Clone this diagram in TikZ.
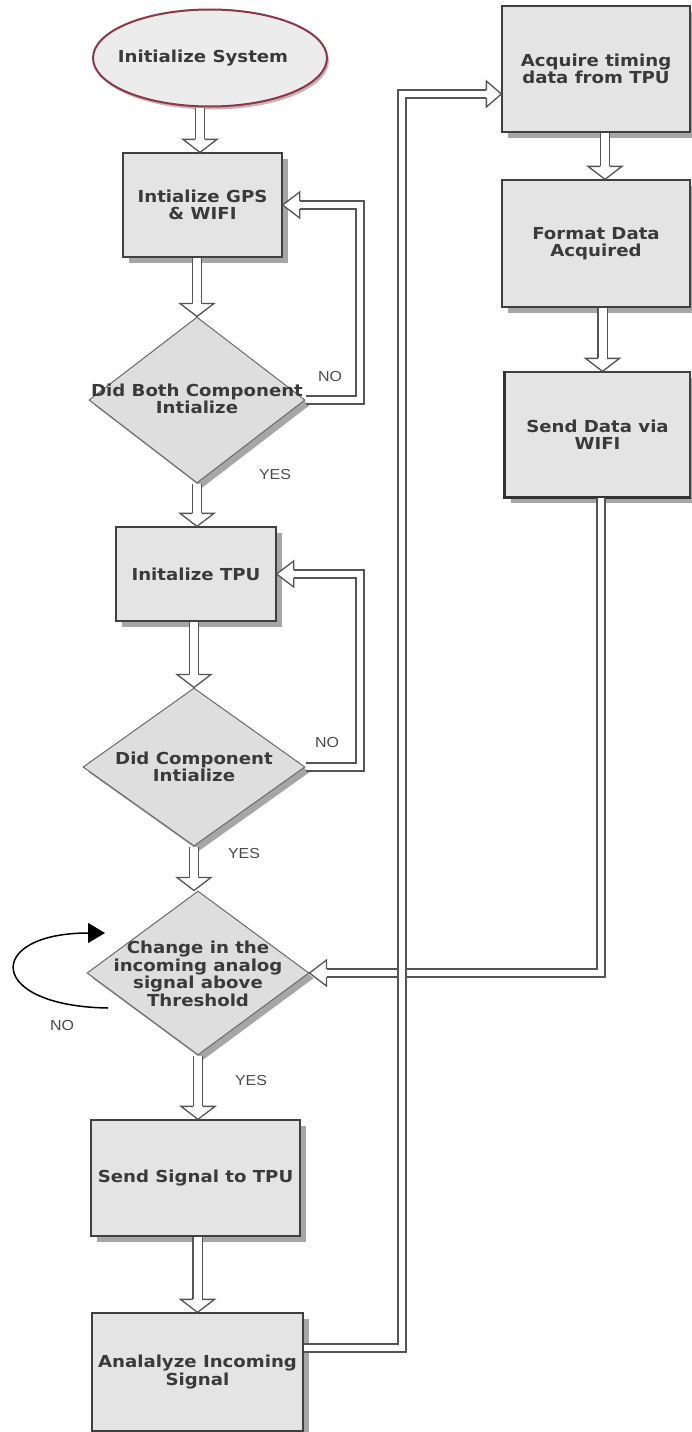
\documentclass[tikz,border=0pt]{standalone}
\usepackage{fontspec}
\usetikzlibrary{shapes.geometric,shadows,calc,arrows.meta}
\newfontfamily\boxfont[FakeStretch=1.1]{DejaVu Sans}
\newfontfamily\lblfont[FakeStretch=1.1]{Liberation Sans}
\definecolor{boxfill}{HTML}{E4E4E4}
\definecolor{decfill}{HTML}{DEDEDE}
\definecolor{boxline}{HTML}{404040}
\definecolor{decline}{HTML}{6A6A6A}
\definecolor{shadowc}{HTML}{A6A6A6}
\definecolor{arrline}{HTML}{555555}
\definecolor{textc}{HTML}{3A3A3A}
\definecolor{lblc}{HTML}{4A4A4A}
\definecolor{ellline}{HTML}{8A3848}
\definecolor{ellfill}{HTML}{ECECEC}
\definecolor{ellshadow}{HTML}{CDB3B9}
\tikzset{
  proc/.style={rectangle, draw=boxline, line width=1.3pt, fill=boxfill, inner sep=0pt,
    drop shadow={shadow xshift=6pt, shadow yshift=-6pt, fill=shadowc, opacity=1},
    font=\boxfont\bfseries\fontsize{16.5}{17.5}\selectfont, text=textc, align=center},
  dec/.style={diamond, draw=decline, line width=1pt, fill=decfill, inner sep=0pt,
    drop shadow={shadow xshift=5pt, shadow yshift=-5pt, fill=shadowc, opacity=1}},
  startsty/.style={ellipse, draw=ellline, line width=2pt, fill=ellfill, inner sep=0pt,
    drop shadow={shadow xshift=2pt, shadow yshift=-3pt, fill=ellshadow, opacity=1}},
  txt/.style={font=\boxfont\bfseries\fontsize{16.5}{17.5}\selectfont, text=textc, align=center, inner sep=0pt},
  lbl/.style={font=\lblfont\fontsize{14.5}{16}\selectfont, text=lblc, inner sep=0pt},
  shaft/.style={draw=arrline, line width=1.3pt, double=white, double distance=8pt},
  lshaft/.style={draw=arrline, line width=1.3pt, double=white, double distance=6.5pt},
  headsty/.style={draw=arrline, line width=1.3pt, fill=white, line join=miter},
}
\newcommand\ArrDown[1]{\draw[headsty] ($(#1)+(-4.65,-13)$) -- ($(#1)+(-17,-13)$) -- (#1) -- ($(#1)+(17,-13)$) -- ($(#1)+(4.65,-13)$);}
\newcommand\ArrLeft[1]{\draw[headsty] ($(#1)+(17,-3.9)$) -- ($(#1)+(17,-13)$) -- (#1) -- ($(#1)+(17,13)$) -- ($(#1)+(17,3.9)$);}
\newcommand\ArrRight[1]{\draw[headsty] ($(#1)+(-15,-3.9)$) -- ($(#1)+(-15,-13)$) -- (#1) -- ($(#1)+(-15,13)$) -- ($(#1)+(-15,3.9)$);}
\begin{document}
\begin{tikzpicture}[x=1pt,y=-1pt]
\fill[white] (0,0) rectangle (691,1432);
\useasboundingbox (0,0) rectangle (691,1432);

% left column
\node[startsty, minimum width=234pt, minimum height=97pt] (ell) at (210,58) {};
\node[txt] (ellt) at (203,58) {Initialize System};
\node[proc, minimum width=159pt, minimum height=104pt] (b1) at (202.5,205) {Intialize GPS\\\& WIFI};
\node[dec, minimum width=216pt, minimum height=166pt] (d1) at (197,400) {};
\node[txt] (d1t) at (197,399) {Did Both Component\\Intialize};
\node[proc, minimum width=160pt, minimum height=94pt] (b2) at (196,574) {Initalize TPU};
\node[dec, minimum width=222pt, minimum height=158pt] (d2) at (194,767) {};
\node[txt] (d2t) at (194,767) {Did Component\\Intialize};
\node[dec, minimum width=222pt, minimum height=164pt] (d3) at (198,973) {};
\node[txt] (d3t) at (198,974) {Change in the\\incoming analog\\signal above\\Threshold};
\node[proc, minimum width=209pt, minimum height=116pt] (b3) at (195.5,1178) {Send Signal to TPU};
\node[proc, minimum width=211pt, minimum height=118pt] (b4) at (197.5,1372) {Analalyze Incoming\\Signal};

% right column
\node[proc, minimum width=188pt, minimum height=126pt] (bA) at (596,69) {Acquire timing\\data from TPU};
\node[proc, minimum width=188pt, minimum height=127pt] (bB) at (596,243.5) {Format Data\\Acquired};
\node[proc, minimum width=185pt, minimum height=125pt] (bC) at (597.5,434.5) {Send Data via\\WIFI};
\draw[line width=2.4pt, draw=boxline!80!black] (bC.north west) -- (bC.south west) -- (bC.south east);

% vertical block arrows
\coordinate (t1) at ($(b1.north)+(-2.5,0)$);
\draw[shaft] (t1 |- ell.south) -- ($(t1)+(0,-13)$); \ArrDown{t1}
\draw[shaft] (d1.north |- b1.south) -- ($(d1.north)+(0,-13)$); \ArrDown{d1.north}
\coordinate (t3) at (d1.south |- b2.north);
\draw[shaft] (d1.south) -- ($(t3)+(0,-13)$); \ArrDown{t3}
\draw[shaft] (d2.north |- b2.south) -- ($(d2.north)+(0,-13)$); \ArrDown{d2.north}
\coordinate (t5) at (d2.south |- d3.north);
\draw[shaft] (d2.south) -- ($(t5)+(0,-13)$); \ArrDown{t5}
\coordinate (t6) at (d3.south |- b3.north);
\draw[shaft] (d3.south) -- ($(t6)+(0,-13)$); \ArrDown{t6}
\draw[shaft] (b4.north |- b3.south) -- ($(b4.north)+(0,-13)$); \ArrDown{b4.north}
\coordinate (t8) at ($(bB.north)+(9,0)$);
\draw[shaft] (t8 |- bA.south) -- ($(t8)+(0,-13)$); \ArrDown{t8}
\coordinate (t9) at ($(bC.north)+(5,0)$);
\draw[shaft] (t9 |- bB.south) -- ($(t9)+(0,-13)$); \ArrDown{t9}

% NO loops
\coordinate (c1) at (360,0);
\draw[lshaft] (d1.east) -| (c1 |- b1.east) -- ($(b1.east)+(17,0)$); \ArrLeft{b1.east}
\draw[lshaft] (d2.east) -| (c1 |- b2.east) -- ($(b2.east)+(17,0)$); \ArrLeft{b2.east}

% return from WIFI
\coordinate (rs) at ($(bC.south)+(3.5,0)$);
\draw[lshaft] (rs) |- ($(d3.east)+(17,0)$); \ArrLeft{d3.east}

% connector to acquire
\coordinate (bs) at ($(b4.east)+(0.7,-24)$);
\coordinate (be) at ($(bA.west)+(0,25)$);
\coordinate (c2) at (402,0);
\draw[lshaft] (bs) -| (c2 |- be) -- ($(be)+(-15,0)$); \ArrRight{be}

% curved NO loop
\coordinate (l3s) at (108,1008);
\coordinate (l3e) at (105,933);
\draw[line width=1.5pt, -{Triangle[length=17pt,width=20pt]}] (l3s) .. controls (-15,1006) and (-15,933) .. (l3e);

% labels
\node[lbl] (no1) at (330,377) {NO};
\node[lbl] (no2) at (327,742) {NO};
\node[lbl] (no3) at (62,1025) {NO};
\node[lbl] (yes1) at (275,475) {YES};
\node[lbl] (yes2) at (244,853) {YES};
\node[lbl] (yes3) at (251,1080) {YES};
\end{tikzpicture}
\end{document}
